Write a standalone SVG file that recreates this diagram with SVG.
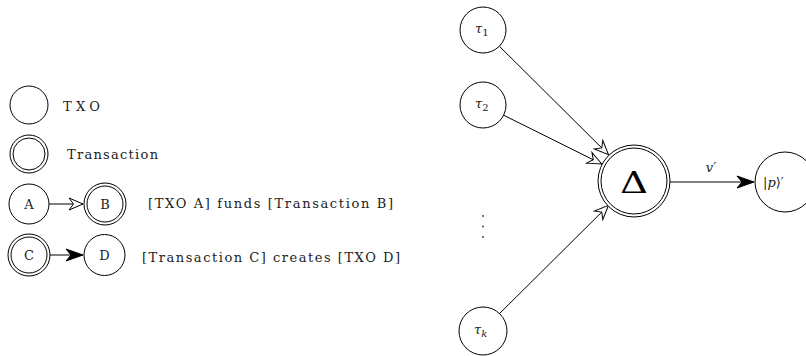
<svg xmlns="http://www.w3.org/2000/svg" width="806" height="356" viewBox="0 0 806 356">
<style>
.n{fill:#fff;stroke:#000;stroke-width:1}
.e{fill:none;stroke:#000;stroke-width:1}
.t{font-family:"DejaVu Serif","Liberation Serif",serif;font-size:13px;fill:#222}
.m{font-family:"DejaVu Serif","Liberation Serif",serif;font-style:italic;fill:#222}
.c{text-anchor:middle}
</style>
<defs>
<marker id="open" markerUnits="userSpaceOnUse" markerWidth="20" markerHeight="16" viewBox="-16 -8 20 16" refX="0" refY="0" orient="auto">
<path d="M0,0 L-14,-6 L-9.5,0 L-14,6 Z" fill="#fff" stroke="#000" stroke-width="1" stroke-linejoin="miter"/>
</marker>
<marker id="fill" markerUnits="userSpaceOnUse" markerWidth="22" markerHeight="16" viewBox="-18 -8 22 16" refX="0" refY="0" orient="auto">
<path d="M0,0 L-17,-6 L-12,0 L-17,6 Z" fill="#000" stroke="#000" stroke-width="1"/>
</marker>
</defs>
<g id="connectors">
<line class="e" x1="49" y1="204" x2="83" y2="204" marker-end="url(#open)"/>
<line class="e" x1="49" y1="255" x2="83" y2="255" marker-end="url(#fill)"/>
<line class="e" x1="499.3" y1="46.2" x2="608.5" y2="154.6" marker-end="url(#open)"/>
<line class="e" x1="503.6" y1="115.2" x2="601.8" y2="164" marker-end="url(#open)"/>
<line class="e" x1="499.8" y1="313.3" x2="608.5" y2="205.4" marker-end="url(#open)"/>
<line class="e" x1="670" y1="182" x2="754" y2="182" marker-end="url(#fill)"/>
<text class="m" x="711" y="172" font-size="13" text-anchor="middle">v′</text>
</g>
<g id="legend-txo">
<circle class="n" cx="29" cy="105" r="19"/>
<text class="t" x="63" y="111" textLength="37" lengthAdjust="spacing">TXO</text>
</g>
<g id="legend-transaction">
<circle class="n" cx="29" cy="154" r="19"/>
<circle class="n" cx="29" cy="154" r="16"/>
<text class="t" x="67" y="159" textLength="91" lengthAdjust="spacing">Transaction</text>
</g>
<g id="node-A">
<circle class="n" cx="29" cy="204" r="20"/>
<text class="t c" x="29" y="208.5">A</text>
</g>
<g id="node-B">
<circle class="n" cx="105" cy="204" r="21"/>
<circle class="n" cx="105" cy="204" r="18"/>
<text class="t c" x="105" y="208.5">B</text>
</g>
<text class="t" x="148" y="208" textLength="245" lengthAdjust="spacing">[TXO A] funds [Transaction B]</text>
<g id="node-C">
<circle class="n" cx="29" cy="255" r="21"/>
<circle class="n" cx="29" cy="255" r="18"/>
<text class="t c" x="29" y="259.5">C</text>
</g>
<g id="node-D">
<circle class="n" cx="104.5" cy="255" r="20.5"/>
<text class="t c" x="104.5" y="259.5">D</text>
</g>
<text class="t" x="142" y="262" textLength="258" lengthAdjust="spacing">[Transaction C] creates [TXO D]</text>
<g id="node-tau1">
<circle class="n" cx="483" cy="30" r="23"/>
<text class="m" x="475" y="33" font-size="13">τ<tspan font-style="normal" font-size="10" dy="3">1</tspan></text>
</g>
<g id="node-tau2">
<circle class="n" cx="483" cy="105" r="23"/>
<text class="m" x="475" y="108" font-size="13">τ<tspan font-style="normal" font-size="10" dy="3">2</tspan></text>
</g>
<g id="node-tauk">
<circle class="n" cx="483" cy="331" r="24"/>
<text class="m" x="474" y="334" font-size="13">τ<tspan font-size="10" dy="3">k</tspan></text>
</g>
<g id="dots">
<circle cx="483" cy="216" r="0.9" fill="#333"/>
<circle cx="483" cy="226.5" r="0.9" fill="#333"/>
<circle cx="483" cy="237" r="0.9" fill="#333"/>
</g>
<g id="node-Delta">
<circle class="n" cx="634" cy="181" r="36"/>
<circle class="n" cx="634" cy="181" r="33"/>
<text x="620" y="193" font-family="DejaVu Serif, serif" font-size="29" textLength="28" lengthAdjust="spacingAndGlyphs" fill="#000">Δ</text>
</g>
<g id="node-p">
<circle class="n" cx="785" cy="182" r="30"/>
<text class="t" x="763" y="187" font-size="13">|<tspan font-style="italic">p</tspan>⟩′</text>
</g>
</svg>
